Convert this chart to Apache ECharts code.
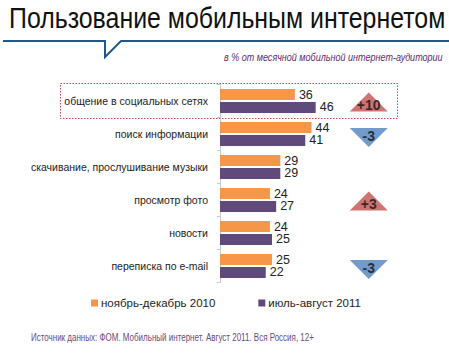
<!DOCTYPE html>
<html><head><meta charset="utf-8">
<script src="https://cdn.jsdelivr.net/npm/echarts@6/dist/echarts.min.js"></script>
<style>html,body{margin:0;padding:0;background:#fff}#c{width:449px;height:357px}</style>
</head><body><div id="c"></div>
<script>
const categories = ['общение в социальных сетях','поиск информации','скачивание, прослушивание музыки','просмотр фото','новости','переписка по e-mail'];
const seriesNames = ['ноябрь-декабрь 2010','июль-август 2011'];
const values2010 = [36,44,29,24,24,25];
const values2011 = [46,41,29,27,25,22];
const changes = [10,-3,null,3,null,-3];

const FONT = '"Liberation Sans",Arial,sans-serif';
const chart = echarts.init(document.getElementById('c'), null, {renderer:'svg'});

const changeData = changes.map((d,i)=> d===null ? null : {
  value:[71.5, i],
  symbol:'triangle',
  symbolRotate: d>0 ? 0 : 180,
  symbolOffset: d>0 ? [0,1] : [0,3.5],
  itemStyle:{color: d>0 ? '#c0504d' : '#4f81bd'},
  label:{formatter: (d>0?'+':'')+d, offset: d>0?[0,3]:[0,-2]}
}).filter(x=>x);

chart.setOption({
  animation:false,
  legend:{
    data:seriesNames, left:86, top:292, icon:'rect', itemWidth:7, itemHeight:7, itemGap:43,
    textStyle:{fontFamily:FONT, fontSize:11.5, color:'#222', padding:[0,0,0,-2]}
  },
  grid:{left:220, top:84.5, width:208, height:198, containLabel:false, outerBoundsMode:'none'},
  xAxis:{type:'value', min:0, max:100, show:false},
  yAxis:{
    type:'category', data:categories, inverse:true,
    axisLine:{show:true, lineStyle:{color:'#c8c8d0', width:1}},
    axisTick:{show:true, length:3, lineStyle:{color:'#c8c8d0'}},
    axisLabel:{fontFamily:FONT, fontSize:10.5, color:'#222', margin:12}
  },
  series:[
    {name:seriesNames[0], type:'bar', data:values2010, barWidth:11, barGap:'18%',
     itemStyle:{color:'#f79646'},
     label:{show:true, position:'right', distance:4, fontFamily:FONT, fontSize:12.5, color:'#222'}},
    {name:seriesNames[1], type:'bar', data:values2011, barWidth:11,
     itemStyle:{color:'#604a7b'},
     label:{show:true, position:'right', distance:4, fontFamily:FONT, fontSize:12.5, color:'#222'}},
    {name:'change', type:'scatter', data:changeData, symbolSize:[38,19], z:5,
     label:{show:true, position:'inside', fontFamily:FONT, fontSize:14, fontWeight:'bold', color:'#111'}}
  ],
  graphic:[
    {type:'text', x:9, y:3, scaleX:0.83, scaleY:1,
     style:{text:'Пользование мобильным интернетом', fontFamily:FONT, fontSize:30, fill:'#111', textVerticalAlign:'top'}},
    {type:'text', x:224, y:52, scaleX:0.86, scaleY:1,
     style:{text:'в % от месячной мобильной интернет-аудитории', fontFamily:FONT, fontSize:10.5, fontStyle:'italic', fill:'#5e2c6e', textVerticalAlign:'top'}},
    {type:'text', x:31, y:333, scaleX:0.8, scaleY:1,
     style:{text:'Источник данных: ФОМ. Мобильный интернет. Август 2011. Вся Россия, 12+', fontFamily:FONT, fontSize:10, fill:'#6b4a80', textVerticalAlign:'top'}},
    {type:'polyline', shape:{points:[[3,41],[105,41],[105,57],[121,41],[449,41]]},
     style:{stroke:'#1f5a8a', lineWidth:2, fill:null}},
    {type:'rect', shape:{x:60.5, y:83.5, width:337, height:35},
     style:{fill:null, stroke:'#c0504d', lineWidth:1, lineDash:[1.5,1.5]}}
  ]
});
</script></body></html>
